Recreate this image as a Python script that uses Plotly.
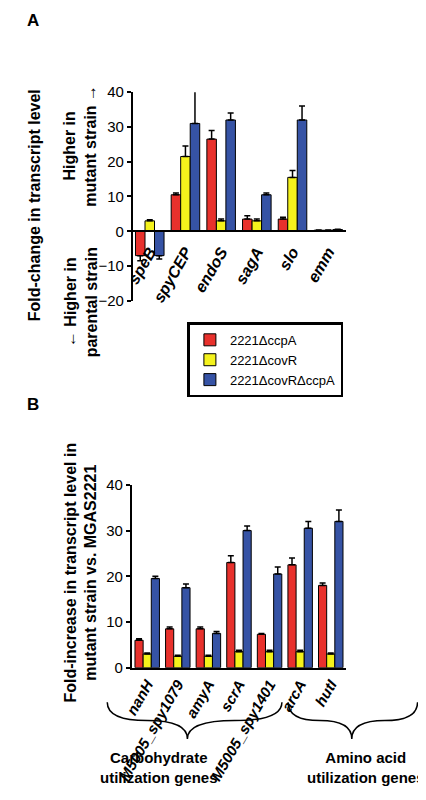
import plotly.graph_objects as go

genesA = ["speB", "spyCEP", "endoS", "sagA", "slo", "emm"]
a_ccpA = [-7, 10.5, 26.5, 3.5, 3.5, 0.3]
a_covR = [3, 21.5, 3, 3, 15.5, 0.3]
a_both = [-7, 31, 32, 10.5, 32, 0.5]
a_ccpA_err = [1.5, 0.5, 2.5, 1, 0.5, 0.1]
a_covR_err = [0.3, 3, 0.5, 0.5, 2, 0.1]
a_both_err = [1, 10, 2, 0.5, 4, 0.1]

genesB = ["nanH", "M5005_spy1079", "amyA", "scrA", "M5005_spy1401", "arcA", "hutI"]
b_ccpA = [6, 8.5, 8.5, 23, 7.3, 22.5, 18]
b_covR = [3, 2.5, 2.5, 3.5, 3.5, 3.5, 3]
b_both = [19.5, 17.5, 7.5, 30, 20.5, 30.5, 32]
b_ccpA_err = [0.3, 0.4, 0.4, 1.5, 0.2, 1.5, 0.5]
b_covR_err = [0.2, 0.2, 0.2, 0.3, 0.3, 0.3, 0.2]
b_both_err = [0.5, 0.8, 0.4, 1, 1.5, 1.5, 2.5]

names = ["2221\u0394ccpA", "2221\u0394covR", "2221\u0394covR\u0394ccpA"]
colors = ["#e8312c", "#f4f21c", "#3653a5"]

def errs(vals, e):
    plus = [x if v >= 0 else 0 for v, x in zip(vals, e)]
    minus = [x if v < 0 else 0 for v, x in zip(vals, e)]
    return dict(type="data", symmetric=False, array=plus, arrayminus=minus,
                color="black", thickness=1.5, width=3)

fig = go.Figure()
for vals, e, n, c in zip([a_ccpA, a_covR, a_both], [a_ccpA_err, a_covR_err, a_both_err], names, colors):
    fig.add_trace(go.Bar(x=[f"<b><i>{g}</i></b>" for g in genesA], y=vals, name=n, marker=dict(color=c, line=dict(color="black", width=1)),
                         error_y=errs(vals, e), xaxis="x", yaxis="y", showlegend=True))
for vals, e, n, c in zip([b_ccpA, b_covR, b_both], [b_ccpA_err, b_covR_err, b_both_err], names, colors):
    fig.add_trace(go.Bar(x=[f"<b><i>{g}</i></b>" for g in genesB], y=vals, name=n, marker=dict(color=c, line=dict(color="black", width=1)),
                         error_y=errs(vals, e), xaxis="x2", yaxis="y2", showlegend=False))

ax = dict(showline=True, linecolor="black", linewidth=2, showgrid=False, ticks="outside",
          tickcolor="black", tickwidth=2, ticklen=4, tickfont=dict(family="Liberation Sans", size=15, color="black"))
fig.update_layout(
    width=426, height=800, margin=dict(l=0, r=0, t=0, b=0),
    plot_bgcolor="white", paper_bgcolor="white", barmode="group", bargap=0.2, bargroupgap=0,
    font=dict(family="Liberation Sans", color="black"),
    xaxis=dict(ax, domain=[0.265, 0.786], anchor="free", position=0.7263, tickangle=-60, ticks="",
               tickfont=dict(family="Liberation Sans", size=16, color="black"), ticklabelstandoff=4),
    yaxis=dict(ax, domain=[0.6375, 0.904], range=[-20, 40], tickvals=[-20, -10, 0, 10, 20, 30, 40],
               tickprefix="<b>", ticksuffix="</b>", zeroline=False, anchor="free", position=0.265),
    xaxis2=dict(ax, domain=[0.265, 0.786], anchor="y2", tickangle=-60, ticks="",
                tickfont=dict(family="Liberation Sans", size=15, color="black")),
    yaxis2=dict(ax, domain=[0.169, 0.4025], range=[0, 40], tickvals=[0, 10, 20, 30, 40],
                tickprefix="<b>", ticksuffix="</b>", anchor="x2"),
    legend=dict(x=0.4, y=0.61, xanchor="left", yanchor="top", bordercolor="black", borderwidth=2.5,
                font=dict(size=13, family="Liberation Sans"), tracegroupgap=0, bgcolor="white",
                itemwidth=30),
)
tf = dict(family="Liberation Sans", size=16, color="black")
anns = [
    dict(x=0.005, y=0.995, text="<b>A</b>", font=dict(tf, size=17)),
    dict(x=0.005, y=0.505, text="<b>B</b>", font=dict(tf, size=17)),
    dict(x=0.03, y=0.76, text="<b>Fold-change in transcript level</b>"),
    dict(x=0.14, y=0.835, text="<b>Higher in<br>mutant strain \u2192</b>"),
    dict(x=0.14, y=0.635, text="<b>\u2190 Higher in<br>parental strain</b>"),
    dict(x=0.14, y=0.29, text="<b>Fold-increase in transcript level in<br>mutant strain vs. MGAS2221</b>"),
    dict(x=0.33, y=0.042, text="<b>Carbohydrate<br>utilization genes</b>", font=dict(tf, size=15)),
    dict(x=0.835, y=0.042, text="<b>Amino acid<br>utilization genes</b>", font=dict(tf, size=15)),
]
for a in anns:
    a.setdefault("font", tf)
    if a["text"] in ("<b>A</b>", "<b>B</b>"):
        xa = "left"
    else:
        xa = "center"
    if a["x"] < 0.2 and xa == "center":
        a["textangle"] = -90
    fig.add_annotation(xref="paper", yref="paper", showarrow=False, xanchor=xa, yanchor="middle", **a)

def brace(x0, x1, xm, ytop, ybot):
    ym = (ytop + ybot) / 2
    return (f"M {x0},{ytop} Q {x0},{ym} {(x0+xm)/2},{ym} Q {xm},{ym} {xm},{ybot} "
            f"Q {xm},{ym} {(xm+x1)/2},{ym} Q {x1},{ym} {x1},{ytop}")
fig.add_shape(type="path", xref="paper", yref="paper", path=brace(0.205, 0.63, 0.4, 0.125, 0.078), line=dict(color="black", width=1.5))
fig.add_shape(type="path", xref="paper", yref="paper", path=brace(0.645, 0.96, 0.8, 0.125, 0.078), line=dict(color="black", width=1.5))

fig.write_html("out.html")
